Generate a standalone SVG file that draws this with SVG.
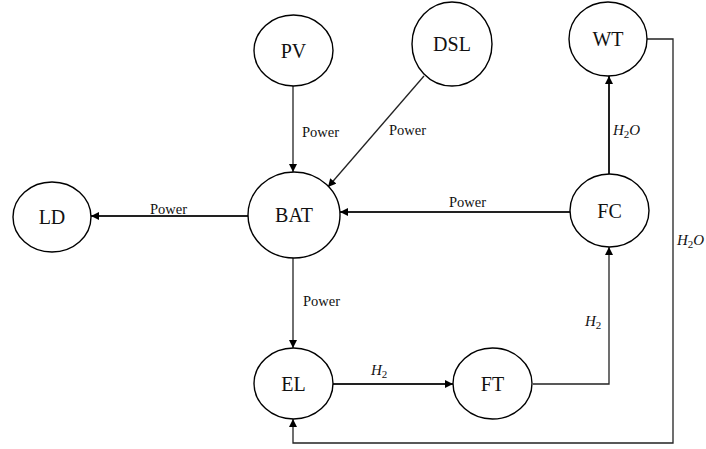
<svg xmlns="http://www.w3.org/2000/svg" width="706" height="449" viewBox="0 0 706 449">
<style>
.node ellipse{fill:#fff;stroke:#000;stroke-width:1.4}
.node text{font-family:"Liberation Serif","Times New Roman",serif;font-size:20px;text-anchor:middle;fill:#111}
.c{fill:none;stroke:#222;stroke-width:1.3}
.t{stroke-width:2}
.lbl{font-family:"Liberation Serif","Times New Roman",serif;font-size:14.5px;fill:#111}
.m{font-style:italic;font-size:15px}
.sub{font-style:normal;font-size:11px}
</style>
<defs>
<marker id="a" viewBox="0 0 10 10" refX="10" refY="5" markerWidth="9" markerHeight="8" markerUnits="userSpaceOnUse" orient="auto">
<path d="M0,0 L10,5 L0,10 z" fill="#000"/>
</marker>
</defs>
<rect width="706" height="449" fill="#fff"/>
<g id="connectors">
<line class="c" x1="293" y1="86" x2="293" y2="172" marker-end="url(#a)"/>
<line class="c" x1="424" y1="76" x2="328" y2="187" marker-end="url(#a)"/>
<line class="c t" x1="570" y1="212" x2="340" y2="212" marker-end="url(#a)"/>
<line class="c t" x1="248" y1="216" x2="91" y2="216" marker-end="url(#a)"/>
<line class="c" x1="293" y1="258" x2="293" y2="348" marker-end="url(#a)"/>
<line class="c t" x1="333" y1="384" x2="453" y2="384" marker-end="url(#a)"/>
<polyline class="c" points="533,384 609,384 609,247" marker-end="url(#a)"/>
<line class="c t" x1="609" y1="174" x2="609" y2="76" marker-end="url(#a)"/>
<polyline class="c" points="647,39 673,39 673,443 293,443 293,419" marker-end="url(#a)"/>
<text class="lbl" x="302" y="137">Power</text>
<text class="lbl" x="389" y="135">Power</text>
<text class="lbl" x="449" y="207">Power</text>
<text class="lbl" x="150" y="214">Power</text>
<text class="lbl" x="303" y="306">Power</text>
<text class="lbl m" x="371" y="375">H<tspan class="sub" dy="3">2</tspan></text>
<text class="lbl m" x="585" y="326">H<tspan class="sub" dy="3">2</tspan></text>
<text class="lbl m" x="613" y="135">H<tspan class="sub" dy="3">2</tspan><tspan dy="-3">O</tspan></text>
<text class="lbl m" x="677" y="245">H<tspan class="sub" dy="3">2</tspan><tspan dy="-3">O</tspan></text>
</g>
<g id="PV" class="node"><ellipse cx="293.5" cy="50.5" rx="39.5" ry="35.5"/><text x="293.5" y="57.5">PV</text></g>
<g id="DSL" class="node"><ellipse cx="452" cy="44" rx="40" ry="42"/><text x="452" y="51">DSL</text></g>
<g id="WT" class="node"><ellipse cx="608" cy="39" rx="39" ry="37"/><text x="608" y="46">WT</text></g>
<g id="LD" class="node"><ellipse cx="52" cy="217" rx="39" ry="35"/><text x="52" y="224">LD</text></g>
<g id="BAT" class="node"><ellipse cx="294" cy="215" rx="46" ry="43"/><text x="294" y="222">BAT</text></g>
<g id="FC" class="node"><ellipse cx="609.5" cy="210.5" rx="39.5" ry="36.5"/><text x="609.5" y="217.5">FC</text></g>
<g id="EL" class="node"><ellipse cx="293.5" cy="383.5" rx="39.5" ry="35.5"/><text x="293.5" y="390.5">EL</text></g>
<g id="FT" class="node"><ellipse cx="492.5" cy="383.5" rx="39.5" ry="35.5"/><text x="492.5" y="390.5">FT</text></g>
</svg>
